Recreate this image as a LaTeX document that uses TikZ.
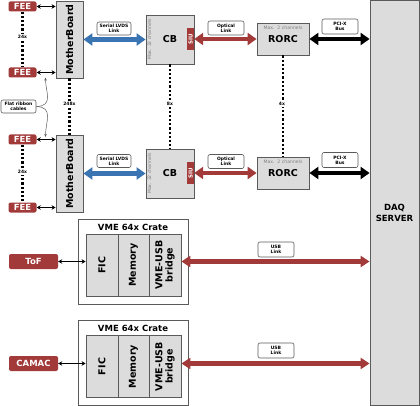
\documentclass[tikz,border=0pt]{standalone}
\usepackage{fontspec}
\setmainfont{DejaVu Sans}
\usepackage{xcolor}
\usepackage{tikz}
\usetikzlibrary{arrows.meta,positioning,calc}
\definecolor{linkred}{HTML}{A23A3A}
\definecolor{linkblue}{HTML}{3A74B2}
\definecolor{boxgray}{HTML}{DCDCDC}
\definecolor{edgegray}{HTML}{5A5A5A}

\begin{document}
\begin{tikzpicture}[x=1pt, y=-1pt,
  box/.style={draw=edgegray,fill=boxgray,line width=0.8pt,inner sep=0pt,font=\bfseries\fontsize{9.5}{11}\selectfont},
  redbox/.style={fill=linkred,text=white,rounded corners=2pt,inner sep=0pt,font=\bfseries\fontsize{8.5}{10}\selectfont},
  tag/.style={draw=edgegray,line width=0.6pt,fill=white,rounded corners=2pt,inner sep=0pt,align=center,font=\bfseries\fontsize{4.5}{5}\selectfont},
  count/.style={fill=white,inner sep=1pt,font=\bfseries\fontsize{4.5}{5}\selectfont},
  maxch/.style={text=gray,inner sep=0pt,font=\fontsize{4.6}{5}\selectfont},
  dots/.style={line width=2.2pt,dash pattern=on 2.2pt off 2pt},
  thinarrow/.style={{Stealth[length=4pt,width=4.5pt]}-{Stealth[length=4pt,width=4.5pt]},line width=1.2pt},
  fatarrow/.style={{Triangle[length=9pt,width=12pt]}-{Triangle[length=9pt,width=12pt]},line width=4.8pt},
  usbarrow/.style={{Triangle[length=9pt,width=11pt]}-{Triangle[length=9pt,width=11pt]},line width=4.2pt,linkred}]
  \useasboundingbox (0,0) rectangle (420,406);

  % front-end cards and motherboards
  \node[redbox,minimum width=28pt,minimum height=10pt] (fee1) at (22.5,6.5) {FEE};
  \node[redbox,minimum width=28pt,minimum height=10pt] (fee2) at (22.5,72.5) {FEE};
  \node[redbox,minimum width=28pt,minimum height=10pt] (fee3) at (22.5,139.5) {FEE};
  \node[redbox,minimum width=28pt,minimum height=10pt] (fee4) at (22.5,207.5) {FEE};
  \node[box,minimum width=27pt,minimum height=77pt] (mb1) at (69.5,39.5) {\rotatebox{90}{MotherBoard}};
  \node[box,minimum width=27pt,minimum height=77pt] (mb2) at (69.5,173.5) {\rotatebox{90}{MotherBoard}};
  \draw[thinarrow] (fee1.east) -- (fee1.east -| mb1.west);
  \draw[thinarrow] (fee2.east) -- (fee2.east -| mb1.west);
  \draw[thinarrow] (fee3.east) -- (fee3.east -| mb2.west);
  \draw[thinarrow] (fee4.east) -- (fee4.east -| mb2.west);
  \draw[dots] (fee1.south) -- (fee2.north);
  \draw[dots] (fee3.south) -- (fee4.north);
  \draw[dots] (mb1.south) -- (mb2.north);
  \node[count] at (22.5,37) {24x};
  \node[count] at (22.5,172) {24x};
  \node[count] at (69.5,104) {248x};

  \node[tag,minimum width=35pt,minimum height=13pt] (flat) at (18.5,106.5) {Flat ribbon\\cables};
  \coordinate (rib1) at (45.5,77.5);
  \coordinate (rib2) at (45.5,137);
  \draw[-{Stealth[length=3pt,width=2.5pt]},edgegray,line width=0.5pt] (flat.east) .. controls (54,106) and (45.5,92) .. (rib1);
  \draw[-{Stealth[length=3pt,width=2.5pt]},edgegray,line width=0.5pt] (flat.east) .. controls (54,107) and (45.5,122) .. (rib2);

  % concentrator boards, RORCs, DAQ server
  \node[box,minimum width=48pt,minimum height=49pt] (cb1) at (170,39.5) {CB};
  \node[box,minimum width=48pt,minimum height=49pt] (cb2) at (170,173.5) {CB};
  \node[maxch,rotate=90] at (149.5,39.5) {Max. 32 channels};
  \node[maxch,rotate=90] at (149.5,173.5) {Max. 32 channels};
  \node[fill=linkred,text=white,inner sep=0pt,minimum width=7pt,minimum height=22pt,font=\bfseries\fontsize{5.5}{6}\selectfont] (siu1) at (190.5,39) {\rotatebox{90}{SIU}};
  \node[fill=linkred,text=white,inner sep=0pt,minimum width=7pt,minimum height=22pt,font=\bfseries\fontsize{5.5}{6}\selectfont] (siu2) at (190.5,173) {\rotatebox{90}{SIU}};
  \node[box,minimum width=52pt,minimum height=32pt] (rorc1) at (283,39) {RORC};
  \node[box,minimum width=52pt,minimum height=32pt] (rorc2) at (283,173) {RORC};
  \node[maxch] at (283,27.5) {Max.\ \ 2 channels};
  \node[maxch] at (283,161.5) {Max.\ \ 2 channels};
  \node[box,minimum width=49pt,minimum height=405pt] (daq) at (394.5,202.5) {};
  \node[align=center,font=\bfseries\fontsize{8.5}{11}\selectfont] at (394.5,213) {DAQ\\SERVER};
  \draw[dots] (cb1.south) -- (cb2.north);
  \draw[dots] (rorc1.south) -- (rorc2.north);
  \node[count] at (170,104) {8x};
  \node[count] at (282,104) {4x};

  \draw[fatarrow,linkblue] (cb1.west -| mb1.east) -- (cb1.west);
  \draw[fatarrow,linkblue] (cb2.west -| mb2.east) -- (cb2.west);
  \draw[fatarrow,linkred] (siu1.east) -- (rorc1.west);
  \draw[fatarrow,linkred] (siu2.east) -- (rorc2.west);
  \draw[fatarrow,black] (rorc1.east) -- (rorc1.east -| daq.west);
  \draw[fatarrow,black] (rorc2.east) -- (rorc2.east -| daq.west);
  \node[tag,minimum width=34pt,minimum height=13pt] at (114,28.5) {Serial LVDS\\Link};
  \node[tag,minimum width=34pt,minimum height=13pt] at (114,161) {Serial LVDS\\Link};
  \node[tag,minimum width=36pt,minimum height=14pt] at (226,28) {Optical\\Link};
  \node[tag,minimum width=36pt,minimum height=14pt] at (226,161.5) {Optical\\Link};
  \node[tag,minimum width=36pt,minimum height=15pt] at (340,26.5) {PCI-X\\Bus};
  \node[tag,minimum width=36pt,minimum height=15pt] at (340,160) {PCI-X\\Bus};

  % VME crates
  \node[draw=edgegray,fill=white,line width=0.8pt,minimum width=110pt,minimum height=85pt] (crate1) at (133,261.5) {};
  \node[font=\bfseries\fontsize{8.5}{10}\selectfont] at (133,227) {VME 64x Crate};
  \node[box,minimum width=32pt,minimum height=62pt] (fic1) at (102,265) {\rotatebox{90}{FIC}};
  \node[box,minimum width=31pt,minimum height=62pt] (mem1) at (133.5,265) {\rotatebox{90}{Memory}};
  \node[box,minimum width=32pt,minimum height=62pt,align=center] (bridge1) at (165,265) {\rotatebox{90}{\shortstack{VME-USB\\bridge}}};
  \node[redbox,minimum width=49pt,minimum height=15pt] (tof) at (33.5,261.5) {ToF};
  \draw[thinarrow] (tof.east) -- (tof.east -| fic1.west);
  \draw[usbarrow] (tof.east -| bridge1.east) -- (tof.east -| daq.west);
  \node[tag,minimum width=36pt,minimum height=15pt] at (276,249.5) {USB\\Link};

  \node[draw=edgegray,fill=white,line width=0.8pt,minimum width=110pt,minimum height=85pt] (crate2) at (133,362.5) {};
  \node[font=\bfseries\fontsize{8.5}{10}\selectfont] at (133,328.5) {VME 64x Crate};
  \node[box,minimum width=32pt,minimum height=62pt] (fic2) at (102,366.5) {\rotatebox{90}{FIC}};
  \node[box,minimum width=31pt,minimum height=62pt] (mem2) at (133.5,366.5) {\rotatebox{90}{Memory}};
  \node[box,minimum width=32pt,minimum height=62pt,align=center] (bridge2) at (165,366.5) {\rotatebox{90}{\shortstack{VME-USB\\bridge}}};
  \node[redbox,minimum width=49pt,minimum height=15pt] (camac) at (33.5,363.5) {CAMAC};
  \draw[thinarrow] (camac.east) -- (camac.east -| fic2.west);
  \draw[usbarrow] (camac.east -| bridge2.east) -- (camac.east -| daq.west);
  \node[tag,minimum width=36pt,minimum height=15pt] at (276,350.5) {USB\\Link};
\end{tikzpicture}
\end{document}
